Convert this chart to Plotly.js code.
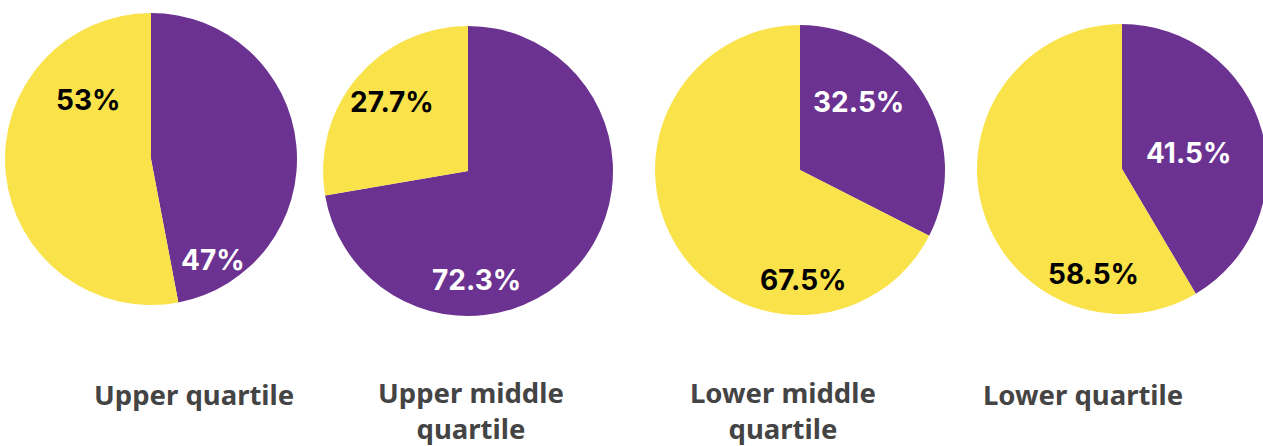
<!DOCTYPE html>
<html><head><meta charset="utf-8">
<script src="https://cdn.plot.ly/plotly-3.0.1.min.js"></script>
<style>html,body{margin:0;padding:0;overflow:hidden;background:#fff}#chart{width:1270px;height:446px}</style>
</head><body><div id="chart"></div>
<script>
// Data
const quartiles = ["Upper quartile", "Upper middle<br>quartile", "Lower middle<br>quartile", "Lower quartile"];
const groups = ["Purple", "Yellow"];
const purpleShare = [47, 72.3, 32.5, 41.5];
const yellowShare = [53, 27.7, 67.5, 58.5];

// Layout constants (pixels)
const W = 1270, H = 446;
const PURPLE = "#6B3291", YELLOW = "#FAE24A";
const pies = [ {cx:151, cy:159, r:146}, {cx:468, cy:171, r:145}, {cx:800, cy:170, r:145}, {cx:1122, cy:169, r:145} ];
const purpleLabelPos = [[213,260],[476,280],[858,102],[1188,153]];
const yellowLabelPos = [[88,100],[392,102],[803,280],[1093,274]];
const titlePos = [[194,394],[471,410],[783,410],[1083,394]];

const px = x => x / W, py = y => 1 - y / H;
const fmt = v => v + "%";

const traces = quartiles.map((q, i) => {
  const p = pies[i];
  return {
    type: "pie",
    values: [purpleShare[i], yellowShare[i]],
    labels: groups,
    sort: false,
    direction: "clockwise",
    rotation: 0,
    textinfo: "none",
    hoverinfo: "skip",
    showlegend: false,
    marker: {colors: [PURPLE, YELLOW], line: {width: 0}},
    domain: {x: [px(p.cx - p.r), px(p.cx + p.r)], y: [py(p.cy + p.r), py(p.cy - p.r)]}
  };
});

const labelFont = {family: "Inter, Noto Sans, sans-serif", size: 28, weight: 700};
const annotations = [];
quartiles.forEach((q, i) => {
  annotations.push({xref:"paper", yref:"paper", x:px(purpleLabelPos[i][0]), y:py(purpleLabelPos[i][1]),
    text: fmt(purpleShare[i]), showarrow:false, xanchor:"center", yanchor:"middle",
    font: Object.assign({}, labelFont, {color:"#ffffff"})});
  annotations.push({xref:"paper", yref:"paper", x:px(yellowLabelPos[i][0]), y:py(yellowLabelPos[i][1]),
    text: fmt(yellowShare[i]), showarrow:false, xanchor:"center", yanchor:"middle",
    font: Object.assign({}, labelFont, {color:"#000000"})});
  annotations.push({xref:"paper", yref:"paper", x:px(titlePos[i][0]), y:py(titlePos[i][1]),
    text: q, showarrow:false, xanchor:"center", yanchor:"middle", align:"center",
    font: {family: "Noto Sans, sans-serif", size: 27.5, weight: 700, color:"#444444"}});
});

Plotly.newPlot("chart", traces, {
  width: W, height: H,
  margin: {l:0, r:0, t:0, b:0},
  paper_bgcolor: "#ffffff",
  annotations: annotations
}, {displayModeBar: false, staticPlot: true});
</script></body></html>
